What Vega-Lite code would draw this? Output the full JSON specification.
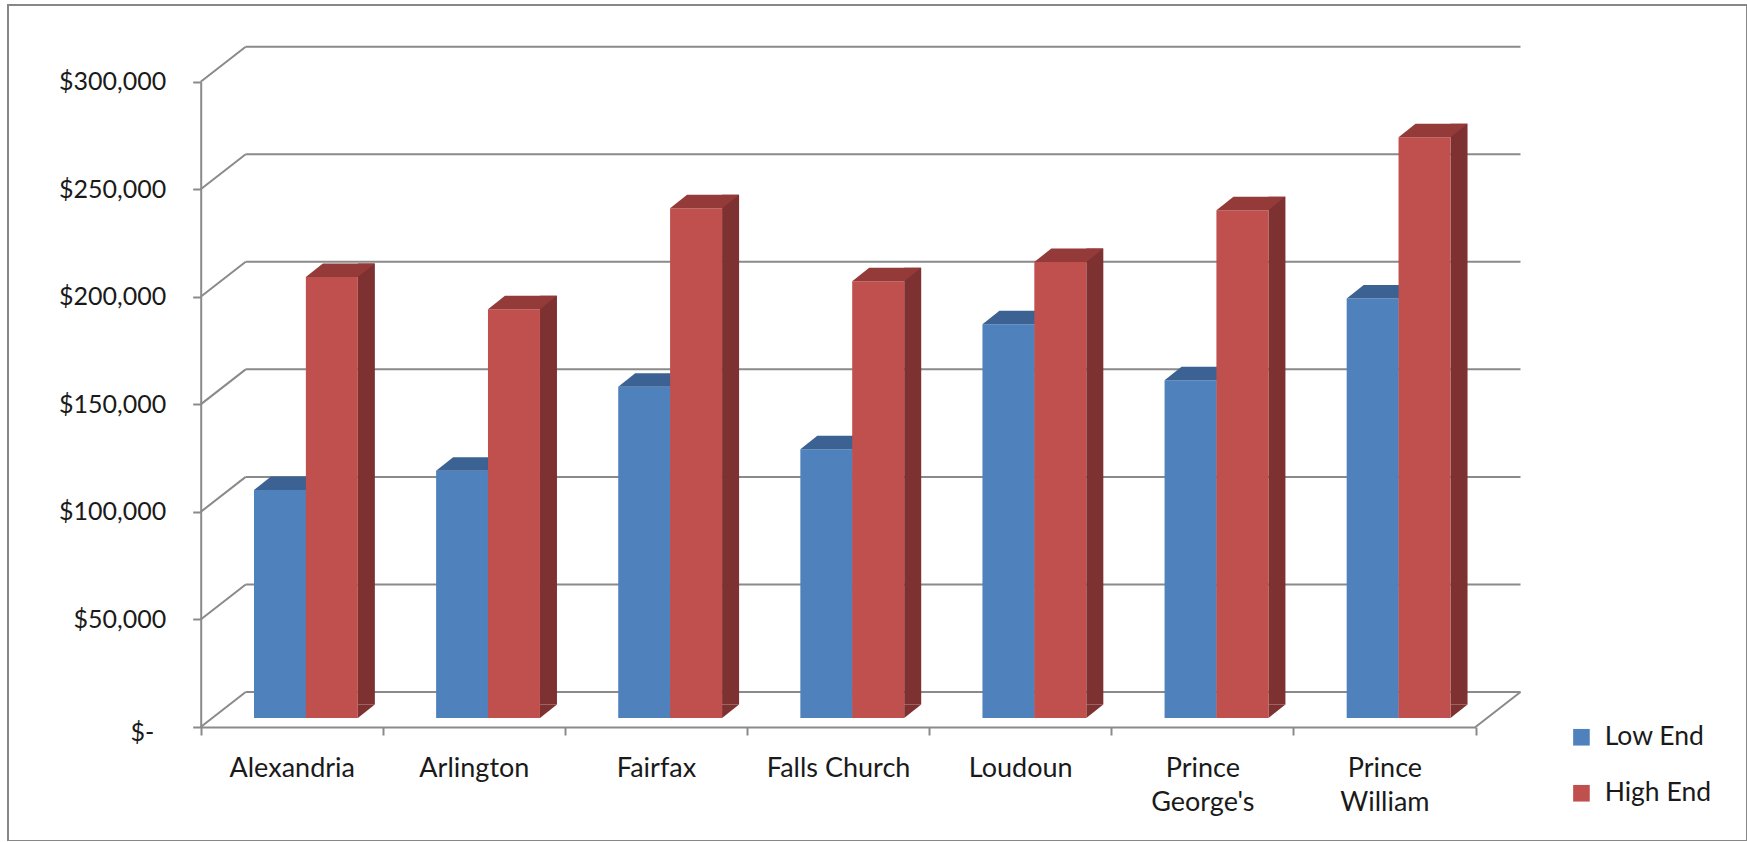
{
  "$schema": "https://vega.github.io/schema/vega-lite/v6.json",
  "width": 1739,
  "height": 836,
  "autosize": {"type": "none"},
  "padding": {"left": 8, "top": 5, "right": 0, "bottom": 0},
  "background": "white",
  "config": {
    "view": {"stroke": "#878787", "strokeWidth": 2},
    "font": "Lato",
    "axisX": {"title": null, "orient": "bottom", "offset": -114, "domainColor": "#8a8a8a", "domainWidth": 2, "tickColor": "#8a8a8a", "tickWidth": 2, "tickSize": 8, "tickBand": "extent", "labelFont": "Lato", "labelFontSize": 27, "labelColor": "#1a1a1a", "labelPadding": 20, "labelAngle": 0, "labelLineHeight": 34, "grid": false},
    "axisY": {"title": null, "orient": "left", "offset": -192.7, "domainColor": "#8a8a8a", "domainWidth": 2, "tickColor": "#8a8a8a", "tickWidth": 2, "tickSize": 8, "labelFont": "Lato", "labelFontSize": 25, "labelColor": "#1a1a1a", "grid": false}
  },
  "datasets": {
    "prices": [
      {"city": "Alexandria", "series": "Low End", "value": 106000},
      {"city": "Alexandria", "series": "High End", "value": 205000},
      {"city": "Arlington", "series": "Low End", "value": 115000},
      {"city": "Arlington", "series": "High End", "value": 190000},
      {"city": "Fairfax", "series": "Low End", "value": 154000},
      {"city": "Fairfax", "series": "High End", "value": 237000},
      {"city": "Falls Church", "series": "Low End", "value": 125000},
      {"city": "Falls Church", "series": "High End", "value": 203000},
      {"city": "Loudoun", "series": "Low End", "value": 183000},
      {"city": "Loudoun", "series": "High End", "value": 212000},
      {"city": "Prince George's", "series": "Low End", "value": 157000},
      {"city": "Prince George's", "series": "High End", "value": 236000},
      {"city": "Prince William", "series": "Low End", "value": 195000},
      {"city": "Prince William", "series": "High End", "value": 270000}
    ],
    "ticks": [{"v": 0}, {"v": 50000}, {"v": 100000}, {"v": 150000}, {"v": 200000}, {"v": 250000}, {"v": 300000}]
  },
  "layer": [
    {
      "data": {"name": "ticks"},
      "mark": {"type": "rule", "color": "#8a8a8a", "strokeWidth": 2, "xOffset": -46.06, "x2Offset": 136.06, "yOffset": -35},
      "encoding": {
        "x": {"datum": "Alexandria", "type": "nominal", "scale": {"domain": ["Alexandria", "Arlington", "Fairfax", "Falls Church", "Loudoun", "Prince George's", "Prince William"], "range": [192.7, 1467.5], "paddingInner": 0, "paddingOuter": 0}, "axis": {"title": null, "labelExpr": "datum.value == \"Prince George's\" ? [\"Prince\", \"George's\"] : datum.value == \"Prince William\" ? [\"Prince\", \"William\"] : datum.label"}},
        "x2": {"datum": "Prince William"},
        "y": {"field": "v", "type": "quantitative", "scale": {"domain": [0, 300000], "range": [722, 76.7], "nice": false, "zero": true}, "axis": {"title": null, "values": [0, 50000, 100000, 150000, 200000, 250000, 300000], "labelPadding": {"condition": {"test": "datum.value == 0", "value": 39}, "value": 27}, "labelOffset": {"condition": {"test": "datum.value == 0", "value": 5}, "value": 0}, "labelExpr": "datum.value == 0 ? '$-' : format(datum.value, '$,')"}}
      }
    },
    {
      "data": {"name": "ticks"},
      "mark": {"type": "rule", "color": "#8a8a8a", "strokeWidth": 2, "xOffset": -91.06, "x2Offset": -46.06, "y2Offset": -35},
      "encoding": {
        "x": {"datum": "Alexandria", "type": "nominal", "axis": {"title": null, "labelExpr": "datum.value == \"Prince George's\" ? [\"Prince\", \"George's\"] : datum.value == \"Prince William\" ? [\"Prince\", \"William\"] : datum.label"}},
        "x2": {"datum": "Alexandria"},
        "y": {"field": "v", "type": "quantitative", "axis": {"title": null, "values": [0, 50000, 100000, 150000, 200000, 250000, 300000], "labelPadding": {"condition": {"test": "datum.value == 0", "value": 39}, "value": 27}, "labelOffset": {"condition": {"test": "datum.value == 0", "value": 5}, "value": 0}, "labelExpr": "datum.value == 0 ? '$-' : format(datum.value, '$,')"}},
        "y2": {"field": "v"}
      }
    },
    {
      "data": {"values": [{"edge": "floor"}]},
      "mark": {"type": "rule", "color": "#8a8a8a", "strokeWidth": 2, "xOffset": 91.06, "x2Offset": 136.06, "y2Offset": -35},
      "encoding": {
        "x": {"datum": "Prince William", "type": "nominal", "axis": {"title": null, "labelExpr": "datum.value == \"Prince George's\" ? [\"Prince\", \"George's\"] : datum.value == \"Prince William\" ? [\"Prince\", \"William\"] : datum.label"}},
        "x2": {"datum": "Prince William"},
        "y": {"datum": 0, "type": "quantitative", "axis": {"title": null, "values": [0, 50000, 100000, 150000, 200000, 250000, 300000], "labelPadding": {"condition": {"test": "datum.value == 0", "value": 39}, "value": 27}, "labelOffset": {"condition": {"test": "datum.value == 0", "value": 5}, "value": 0}, "labelExpr": "datum.value == 0 ? '$-' : format(datum.value, '$,')"}},
        "y2": {"datum": 0}
      }
    },
    {
      "data": {"name": "prices"},
      "transform": [{"filter": "datum.series == 'Low End'"}],
      "layer": [
        {
          "mark": {"type": "bar", "width": 17, "xOffset": 22.74, "yOffset": -22.5, "y2Offset": -22.5, "color": "#385D8A"},
          "encoding": {
            "x": {"field": "city", "type": "nominal", "axis": {"title": null, "labelExpr": "datum.value == \"Prince George's\" ? [\"Prince\", \"George's\"] : datum.value == \"Prince William\" ? [\"Prince\", \"William\"] : datum.label"}},
            "y": {"field": "value", "type": "quantitative", "axis": {"title": null, "values": [0, 50000, 100000, 150000, 200000, 250000, 300000], "labelPadding": {"condition": {"test": "datum.value == 0", "value": 39}, "value": 27}, "labelOffset": {"condition": {"test": "datum.value == 0", "value": 5}, "value": 0}, "labelExpr": "datum.value == 0 ? '$-' : format(datum.value, '$,')"}}
          }
        },
        {
          "mark": {"type": "point", "shape": "M 26 0 L 26 -13.5 L 43 -13.5 Z", "size": 4, "filled": true, "opacity": 1, "color": "#385D8A", "xOffset": -11.76, "yOffset": -9},
          "encoding": {
            "x": {"field": "city", "type": "nominal", "axis": {"title": null, "labelExpr": "datum.value == \"Prince George's\" ? [\"Prince\", \"George's\"] : datum.value == \"Prince William\" ? [\"Prince\", \"William\"] : datum.label"}},
            "y": {"datum": 0, "type": "quantitative", "axis": {"title": null, "values": [0, 50000, 100000, 150000, 200000, 250000, 300000], "labelPadding": {"condition": {"test": "datum.value == 0", "value": 39}, "value": 27}, "labelOffset": {"condition": {"test": "datum.value == 0", "value": 5}, "value": 0}, "labelExpr": "datum.value == 0 ? '$-' : format(datum.value, '$,')"}}
          }
        },
        {
          "mark": {"type": "bar", "width": 52, "xOffset": -11.76, "yOffset": -9, "y2Offset": -9},
          "encoding": {
            "x": {"field": "city", "type": "nominal", "axis": {"title": null, "labelExpr": "datum.value == \"Prince George's\" ? [\"Prince\", \"George's\"] : datum.value == \"Prince William\" ? [\"Prince\", \"William\"] : datum.label"}},
            "y": {"field": "value", "type": "quantitative", "axis": {"title": null, "values": [0, 50000, 100000, 150000, 200000, 250000, 300000], "labelPadding": {"condition": {"test": "datum.value == 0", "value": 39}, "value": 27}, "labelOffset": {"condition": {"test": "datum.value == 0", "value": 5}, "value": 0}, "labelExpr": "datum.value == 0 ? '$-' : format(datum.value, '$,')"}},
            "color": {"field": "series", "type": "nominal", "scale": {"domain": ["Low End", "High End"], "range": ["#4F81BD", "#C0504D"]}, "legend": {"orient": "none", "legendX": 1560.2, "legendY": 719, "title": null, "symbolType": "square", "symbolSize": 276, "symbolStrokeWidth": 0, "labelFont": "Lato", "labelFontSize": 26.5, "labelColor": "#1a1a1a", "labelOffset": 10, "rowPadding": 29, "padding": 0}}
          }
        },
        {
          "mark": {"type": "point", "shape": "M -26 0 L 26 0 L 43 -13.5 L -9 -13.5 Z", "size": 4, "filled": true, "opacity": 1, "color": "#3B6292", "xOffset": -11.76, "yOffset": -9},
          "encoding": {
            "x": {"field": "city", "type": "nominal", "axis": {"title": null, "labelExpr": "datum.value == \"Prince George's\" ? [\"Prince\", \"George's\"] : datum.value == \"Prince William\" ? [\"Prince\", \"William\"] : datum.label"}},
            "y": {"field": "value", "type": "quantitative", "axis": {"title": null, "values": [0, 50000, 100000, 150000, 200000, 250000, 300000], "labelPadding": {"condition": {"test": "datum.value == 0", "value": 39}, "value": 27}, "labelOffset": {"condition": {"test": "datum.value == 0", "value": 5}, "value": 0}, "labelExpr": "datum.value == 0 ? '$-' : format(datum.value, '$,')"}}
          }
        }
      ]
    },
    {
      "data": {"name": "prices"},
      "transform": [{"filter": "datum.series == 'High End'"}],
      "layer": [
        {
          "mark": {"type": "bar", "width": 17, "xOffset": 74.6, "yOffset": -22.5, "y2Offset": -22.5, "color": "#7D3130"},
          "encoding": {
            "x": {"field": "city", "type": "nominal", "axis": {"title": null, "labelExpr": "datum.value == \"Prince George's\" ? [\"Prince\", \"George's\"] : datum.value == \"Prince William\" ? [\"Prince\", \"William\"] : datum.label"}},
            "y": {"field": "value", "type": "quantitative", "axis": {"title": null, "values": [0, 50000, 100000, 150000, 200000, 250000, 300000], "labelPadding": {"condition": {"test": "datum.value == 0", "value": 39}, "value": 27}, "labelOffset": {"condition": {"test": "datum.value == 0", "value": 5}, "value": 0}, "labelExpr": "datum.value == 0 ? '$-' : format(datum.value, '$,')"}}
          }
        },
        {
          "mark": {"type": "point", "shape": "M 26 0 L 26 -13.5 L 43 -13.5 Z", "size": 4, "filled": true, "opacity": 1, "color": "#7D3130", "xOffset": 40.1, "yOffset": -9},
          "encoding": {
            "x": {"field": "city", "type": "nominal", "axis": {"title": null, "labelExpr": "datum.value == \"Prince George's\" ? [\"Prince\", \"George's\"] : datum.value == \"Prince William\" ? [\"Prince\", \"William\"] : datum.label"}},
            "y": {"datum": 0, "type": "quantitative", "axis": {"title": null, "values": [0, 50000, 100000, 150000, 200000, 250000, 300000], "labelPadding": {"condition": {"test": "datum.value == 0", "value": 39}, "value": 27}, "labelOffset": {"condition": {"test": "datum.value == 0", "value": 5}, "value": 0}, "labelExpr": "datum.value == 0 ? '$-' : format(datum.value, '$,')"}}
          }
        },
        {
          "mark": {"type": "bar", "width": 52, "xOffset": 40.1, "yOffset": -9, "y2Offset": -9},
          "encoding": {
            "x": {"field": "city", "type": "nominal", "axis": {"title": null, "labelExpr": "datum.value == \"Prince George's\" ? [\"Prince\", \"George's\"] : datum.value == \"Prince William\" ? [\"Prince\", \"William\"] : datum.label"}},
            "y": {"field": "value", "type": "quantitative", "axis": {"title": null, "values": [0, 50000, 100000, 150000, 200000, 250000, 300000], "labelPadding": {"condition": {"test": "datum.value == 0", "value": 39}, "value": 27}, "labelOffset": {"condition": {"test": "datum.value == 0", "value": 5}, "value": 0}, "labelExpr": "datum.value == 0 ? '$-' : format(datum.value, '$,')"}},
            "color": {"field": "series", "type": "nominal", "scale": {"domain": ["Low End", "High End"], "range": ["#4F81BD", "#C0504D"]}}
          }
        },
        {
          "mark": {"type": "point", "shape": "M -26 0 L 26 0 L 43 -13.5 L -9 -13.5 Z", "size": 4, "filled": true, "opacity": 1, "color": "#943B39", "xOffset": 40.1, "yOffset": -9},
          "encoding": {
            "x": {"field": "city", "type": "nominal", "axis": {"title": null, "labelExpr": "datum.value == \"Prince George's\" ? [\"Prince\", \"George's\"] : datum.value == \"Prince William\" ? [\"Prince\", \"William\"] : datum.label"}},
            "y": {"field": "value", "type": "quantitative", "axis": {"title": null, "values": [0, 50000, 100000, 150000, 200000, 250000, 300000], "labelPadding": {"condition": {"test": "datum.value == 0", "value": 39}, "value": 27}, "labelOffset": {"condition": {"test": "datum.value == 0", "value": 5}, "value": 0}, "labelExpr": "datum.value == 0 ? '$-' : format(datum.value, '$,')"}}
          }
        }
      ]
    }
  ]
}
